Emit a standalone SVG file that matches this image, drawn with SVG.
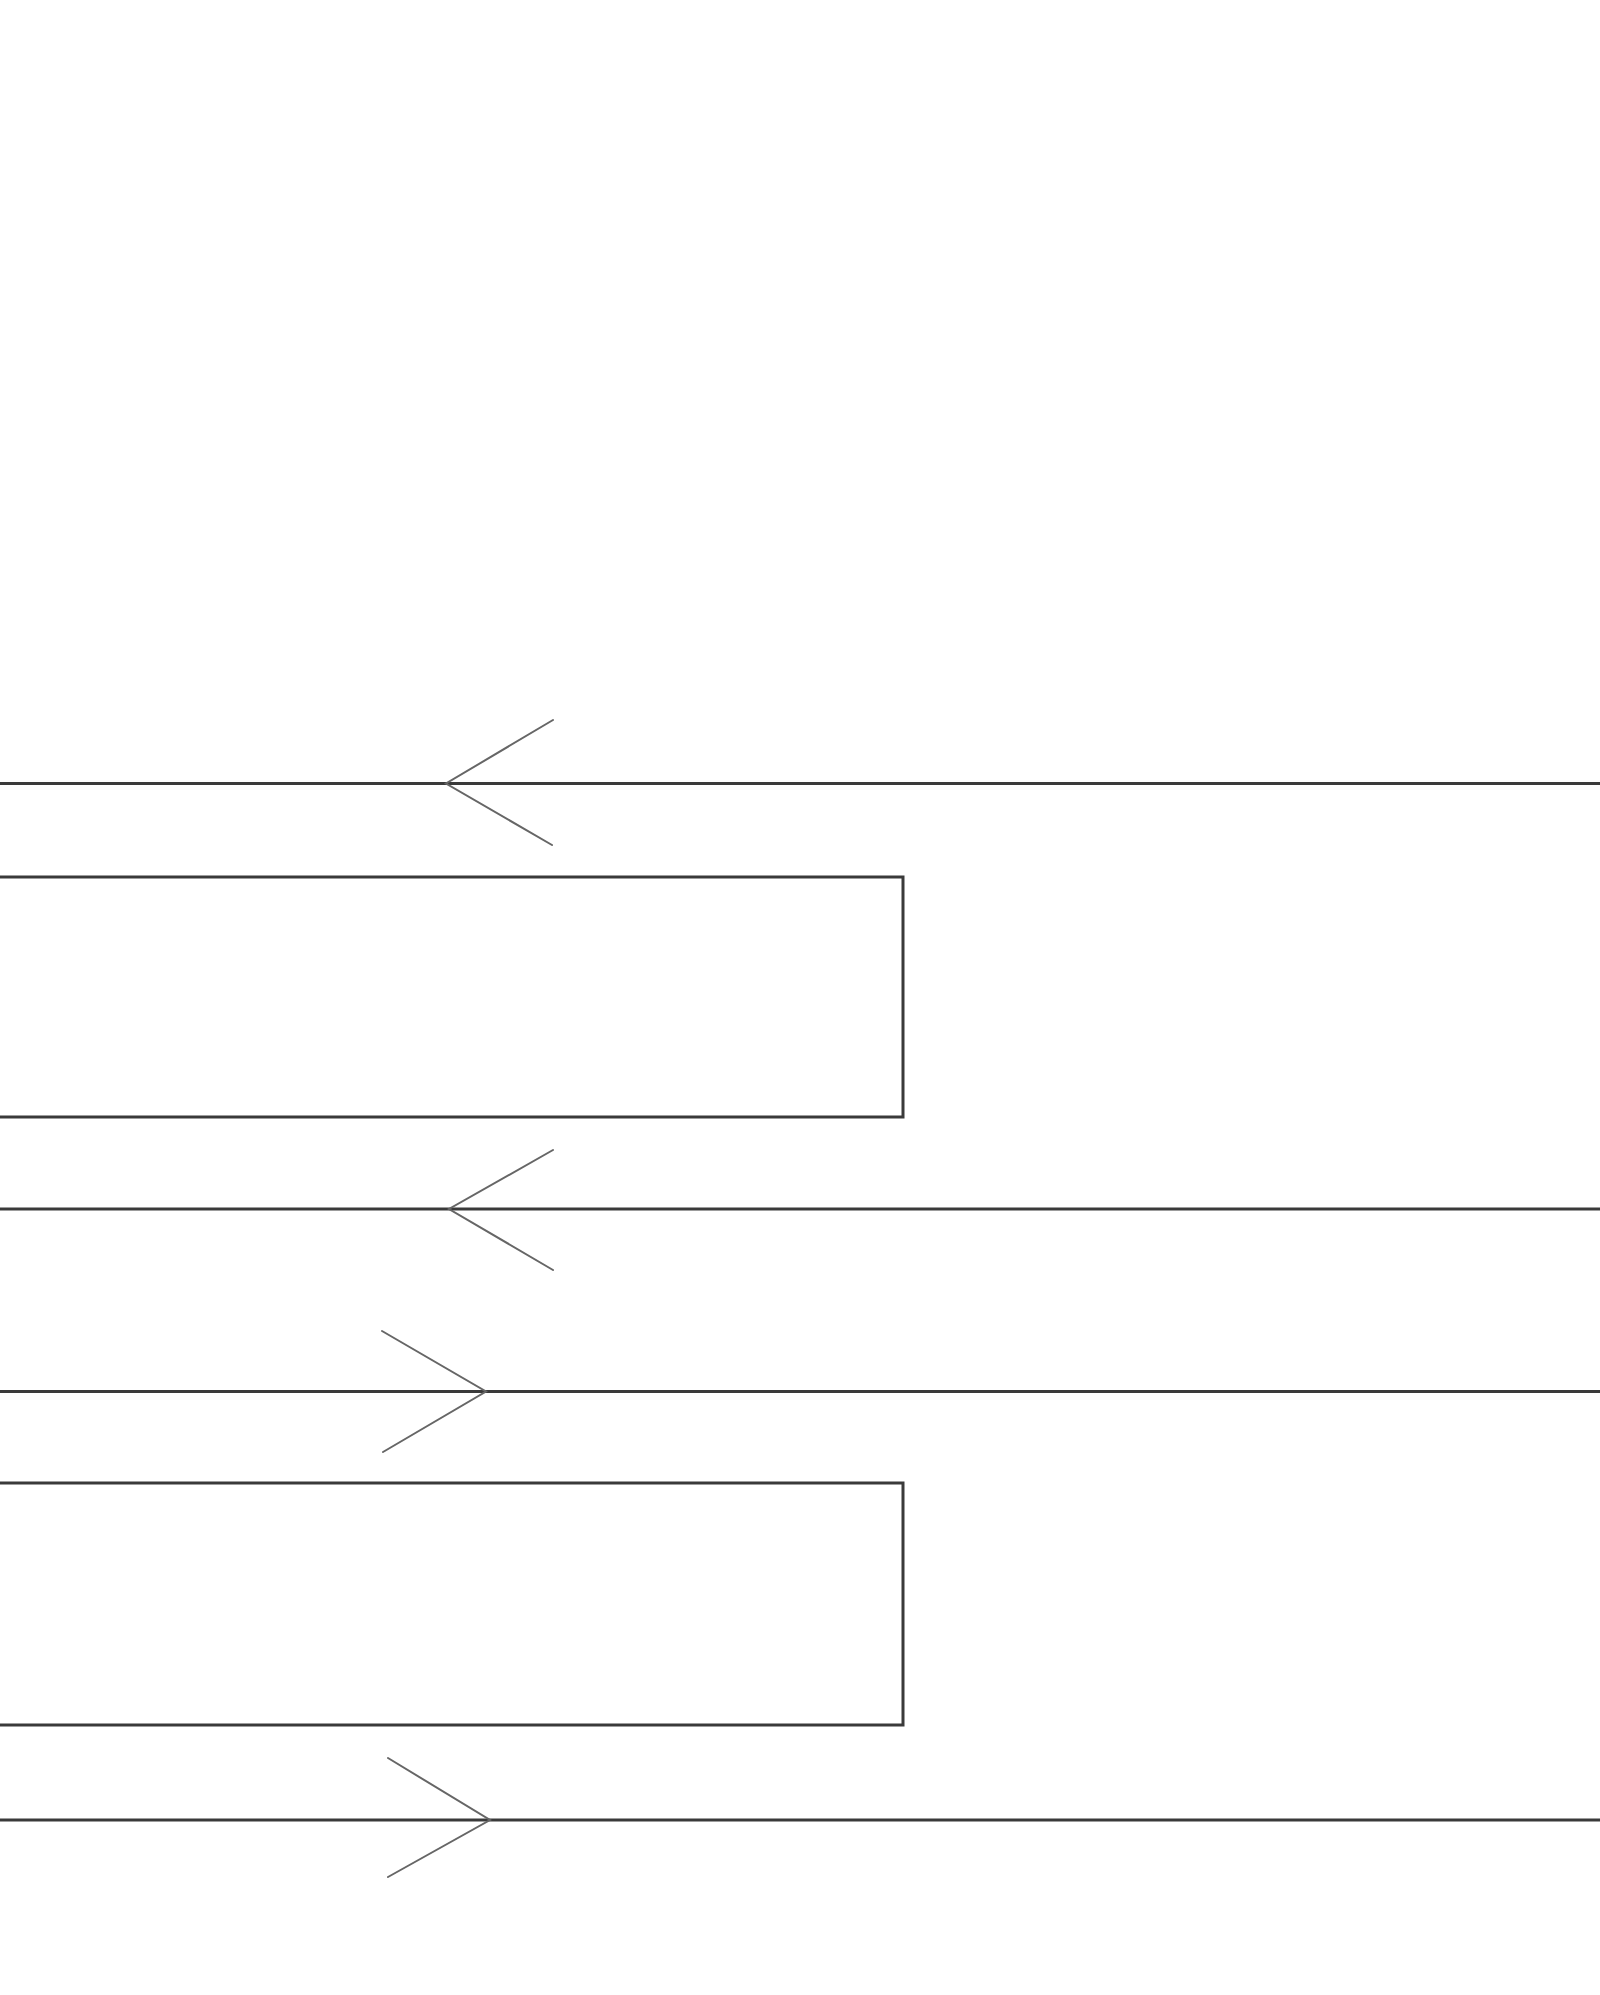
<svg xmlns="http://www.w3.org/2000/svg" width="1600" height="1995" viewBox="0 0 1600 1995">
<style>
.box{fill:none;stroke:#3a3a3a;stroke-width:3}
.ln{fill:none;stroke:#3a3a3a;stroke-width:3}
.arm{fill:none;stroke:#666;stroke-width:2;stroke-linecap:round}
</style>
<rect width="1600" height="1995" fill="#fff"/>
<g id="node1"><path class="box" d="M0 877 H903 V1117 H0"/></g>
<g id="node2"><path class="box" d="M0 1483 H903 V1725 H0"/></g>
<g id="connectors">
<line class="ln" x1="0" y1="783.5" x2="1600" y2="783.5"/>
<path class="arm" d="M553 720 L446 783.5 L552 845"/>
<line class="ln" x1="0" y1="1209" x2="1600" y2="1209"/>
<path class="arm" d="M553 1150 L449 1209 L553 1270"/>
<line class="ln" x1="0" y1="1391.5" x2="1600" y2="1391.5"/>
<path class="arm" d="M382 1331 L486 1391.5 L383 1452"/>
<line class="ln" x1="0" y1="1820" x2="1600" y2="1820"/>
<path class="arm" d="M388 1758 L490 1820 L388 1877"/>
</g>
</svg>
